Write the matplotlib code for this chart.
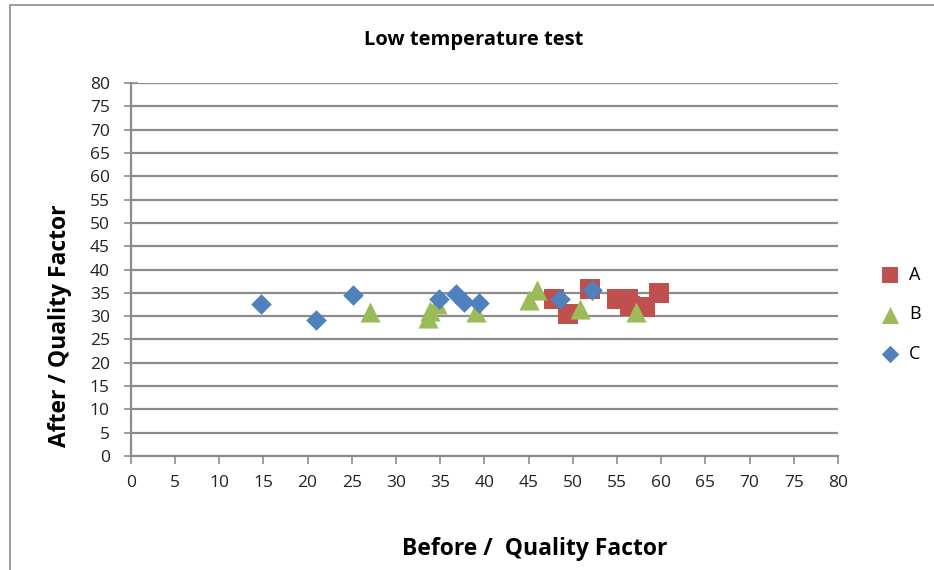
import matplotlib
matplotlib.use("Agg")
import matplotlib.pyplot as plt
from matplotlib.patches import Rectangle

plt.rcParams['font.family'] = ['Open Sans', 'DejaVu Sans']

# Series A (squares)
a_x = [47.9, 49.5, 52.0, 55.0, 56.3, 56.5, 58.2, 59.7]
a_y = [33.6, 30.5, 35.8, 33.6, 33.6, 32.2, 32.0, 35.0]
# Series B (triangles)
b_x = [27.1, 33.6, 33.9, 34.6, 39.1, 45.1, 46.0, 50.8, 57.2]
b_y = [30.9, 29.5, 31.0, 32.5, 30.9, 33.5, 35.5, 31.5, 30.9]
# Series C (diamonds)
c_x = [14.7, 21.0, 25.1, 34.9, 36.8, 37.7, 39.4, 48.5, 52.2]
c_y = [32.6, 29.2, 34.6, 33.6, 34.7, 33.0, 32.9, 33.6, 35.7]

ticks = list(range(0, 81, 5))

fig = plt.figure(figsize=(9.34, 5.70), dpi=100)
fig.patches.append(Rectangle((10 / 934, -0.05), 1.1, 1.05 - 5 / 570,
                             transform=fig.transFigure, fill=False,
                             edgecolor='#8c8c8c', linewidth=1.2))

ax = fig.add_axes([130.7 / 934, 1 - 456 / 570, (838 - 130.7) / 934, (456 - 83) / 570])

grid_c = '#8c8c8c'
ax.set_xlim(0, 80)
ax.set_ylim(0, 80)
ax.set_xticks(ticks)
ax.set_yticks(ticks)
ax.grid(axis='y', color=grid_c, linewidth=1.6)
ax.set_axisbelow(True)
for s in ['top', 'right']:
    ax.spines[s].set_visible(False)
for s in ['left', 'bottom']:
    ax.spines[s].set_color(grid_c)
    ax.spines[s].set_linewidth(1.6)
ax.tick_params(axis='x', direction='out', length=6, width=1.2, color=grid_c,
               labelsize=12.5, pad=8, labelcolor='#222222')
ax.tick_params(axis='y', direction='inout', length=10, width=1.2, color=grid_c,
               labelsize=12.5, pad=10, labelcolor='#222222')

ax.scatter(a_x, a_y, marker='s', s=190, color='#C0504D', label='A', zorder=3, linewidths=0)
ax.scatter(b_x, b_y, marker='^', s=210, color='#9BBB59', label='B', zorder=3, linewidths=0)
ax.scatter(c_x, c_y, marker='D', s=110, color='#4F81BD', label='C', zorder=3, linewidths=0)

fig.text(474 / 934, 1 - 40 / 570, 'Low temperature test', ha='center', va='center',
         fontsize=14.5, fontweight='bold')
fig.text(535 / 934, 1 - 549 / 570, 'Before /  Quality Factor', ha='center', va='center',
         fontsize=16.5, fontweight='bold')
fig.text(60 / 934, 1 - 326 / 570, 'After / Quality Factor', ha='center', va='center',
         rotation=90, fontsize=16.5, fontweight='bold')

leg = ax.legend(loc='center left', bbox_to_anchor=(1.025, 0.38), frameon=False,
                fontsize=13, handletextpad=0.05, labelspacing=1.2,
                scatterpoints=1, markerscale=0.85)
fig.savefig('out.png', dpi=100)
